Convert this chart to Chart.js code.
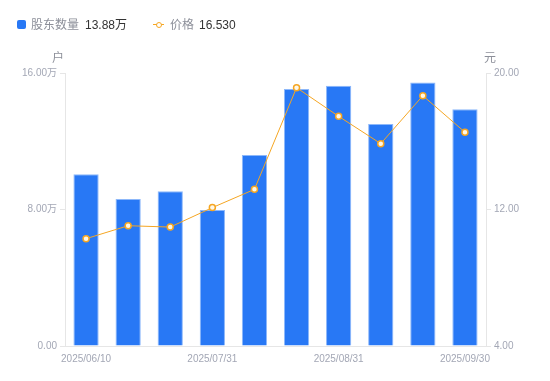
<!DOCTYPE html>
<html>
<head>
<meta charset="utf-8">
<script src="https://cdn.jsdelivr.net/npm/chart.js@4/dist/chart.umd.min.js"></script>
<style>
  html, body { margin: 0; padding: 0; background: #fff; }
  #wrap { position: relative; width: 550px; height: 381px; }
  #legend { position: absolute; left: 0; top: 0; width: 550px; height: 50px;
    font-family: 'Liberation Sans', 'Noto Sans CJK SC', sans-serif; font-size: 12px; }
  #legend span { position: absolute; top: 17px; line-height: 16px; white-space: nowrap; }
  .name { color: #8c8f99; }
  .val { color: #333; }
  .sq { width: 9px; height: 9px; border-radius: 2px; background: #2878f5; top: 20px !important; }
  .ln { width: 11px; height: 1px; background: #f5a623; top: 24px !important; }
  .dot { width: 4px; height: 4px; border: 1.5px solid #f5a623; border-radius: 50%; background: #fff; top: 21.5px !important; }
</style>
</head>
<body>
<div id="wrap">
  <canvas id="myChart"></canvas>
  <div id="legend">
    <span class="sq" style="left:17px"></span>
    <span class="name" style="left:31px">股东数量</span>
    <span class="val" style="left:85px">13.88万</span>
    <span class="ln" style="left:153px"></span>
    <span class="dot" style="left:155.5px"></span>
    <span class="name" style="left:170px">价格</span>
    <span class="val" style="left:199px">16.530</span>
  </div>
</div>
<script>
const dates = ['2025/06/10', '2025/06/20', '2025/06/30', '2025/07/31', '2025/08/10',
  '2025/08/20', '2025/08/31', '2025/09/10', '2025/09/19', '2025/09/30']
const holders = [10.06, 8.62, 9.07, 7.97, 11.19, 15.06, 15.26, 13.01, 15.45, 13.88] // 万户
const prices = [10.29, 11.05, 10.97, 12.11, 13.18, 19.14, 17.46, 15.86, 18.67, 16.53]
const holderTicks = [0, 8, 16]
const priceTicks = [4, 12, 20]

const tickColor = '#a3a7b5'
const lineColor = '#e6e6e6'
const tickFont = { family: "'Liberation Sans', 'Noto Sans CJK SC', sans-serif", size: 10 }

const axisTitles = {
  id: 'axisTitles',
  afterDraw (chart) {
    const { ctx, chartArea, scales } = chart
    ctx.save()
    ctx.font = "12px 'Noto Sans CJK SC', sans-serif"
    ctx.fillStyle = '#8c8f99'
    ctx.textAlign = 'center'
    ctx.textBaseline = 'middle'
    ctx.fillText('户', scales.y.right - 7, chartArea.top - 16)
    ctx.fillText('元', scales.y1.left + 4, chartArea.top - 16)
    ctx.restore()
  }
}

new Chart(document.getElementById('myChart'), {
  data: {
    labels: dates,
    datasets: [
      {
        type: 'line',
        label: '价格',
        data: prices,
        yAxisID: 'y1',
        order: 0,
        borderColor: '#f5a623',
        borderWidth: 1,
        pointRadius: 3,
        pointBorderWidth: 1.5,
        pointBorderColor: '#f5a623',
        pointBackgroundColor: '#fff8e8',
        tension: 0
      },
      {
        type: 'bar',
        label: '股东数量',
        data: holders,
        yAxisID: 'y',
        order: 1,
        backgroundColor: '#2878f5',
        borderColor: '#8db8fa',
        borderWidth: 1,
        barPercentage: 0.6,
        categoryPercentage: 1
      }
    ]
  },
  options: {
    responsive: true,
    maintainAspectRatio: false,
    animation: false,
    layout: { padding: { top: 73, left: 0, right: 0, bottom: 0 } },
    plugins: { legend: { display: false }, tooltip: { enabled: false } },
    scales: {
      x: {
        grid: { display: false, drawTicks: false },
        border: { display: true, color: lineColor },
        ticks: {
          color: tickColor,
          font: tickFont,
          padding: 7,
          autoSkip: false,
          maxRotation: 0,
          callback: (v, i) => (i % 3 === 0 ? dates[i] : '')
        },
        afterFit: s => { s.height = 35 }
      },
      y: {
        position: 'left',
        min: 0,
        max: 16,
        afterBuildTicks: s => { s.ticks = holderTicks.map(v => ({ value: v })) },
        grid: { drawOnChartArea: false, drawTicks: true, tickLength: 5, color: lineColor },
        border: { display: true, color: lineColor },
        ticks: {
          color: tickColor,
          font: tickFont,
          padding: 3,
          callback: v => (v === 0 ? '0.00' : v.toFixed(2) + '万')
        },
        afterFit: s => { s.width = 65 }
      },
      y1: {
        position: 'right',
        min: 4,
        max: 20,
        afterBuildTicks: s => { s.ticks = priceTicks.map(v => ({ value: v })) },
        grid: { drawOnChartArea: false, drawTicks: true, tickLength: 5, color: lineColor },
        border: { display: true, color: lineColor },
        ticks: {
          color: tickColor,
          font: tickFont,
          padding: 3,
          callback: v => v.toFixed(2)
        },
        afterFit: s => { s.width = 64 }
      }
    }
  },
  plugins: [axisTitles]
})
</script>
</body>
</html>
